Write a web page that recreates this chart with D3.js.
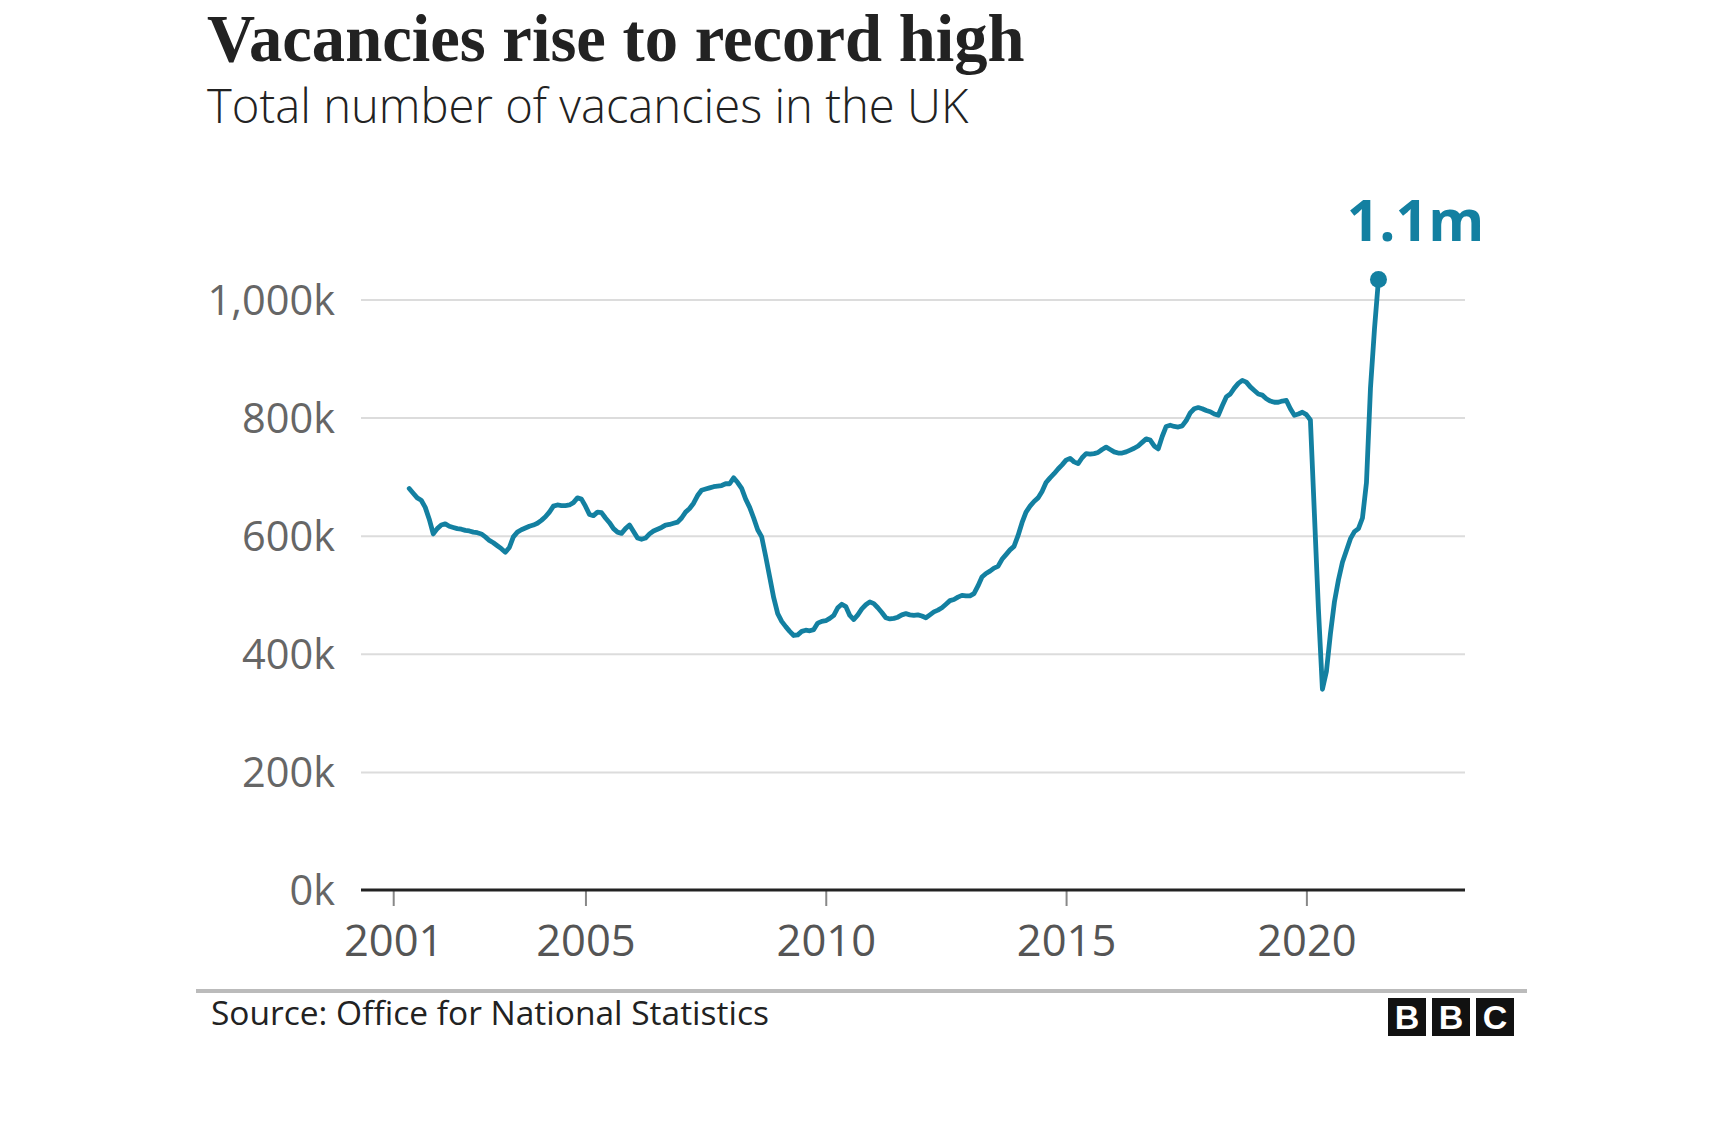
<!DOCTYPE html>
<html>
<head>
<meta charset="utf-8">
<script src="https://cdn.jsdelivr.net/npm/d3@7"></script>
<style>
  html, body { margin: 0; padding: 0; background: #fff; }
  svg { display: block; }
</style>
</head>
<body>
<svg id="chart" width="1724" height="1144"></svg>
<script>
// ---- Data (thousands of vacancies, rolling 3-month average, plotted at middle month) ----
const firstYear = 2001;
const firstMonth = 5; // May 2001
const v2001 = [680, 672, 664, 660, 648, 628, 603, 612];
const v2002 = [618, 620, 616, 614, 612, 611, 609, 608, 606, 605, 603, 598];
const v2003 = [592, 588, 583, 578, 572, 580, 598, 606, 610, 613, 616, 618];
const v2004 = [621, 626, 632, 640, 650, 652, 651, 651, 652, 656, 664, 662];
const v2005 = [650, 636, 634, 640, 639, 630, 622, 612, 606, 604, 612, 618];
const v2006 = [607, 596, 594, 596, 603, 608, 611, 614, 618, 619, 621, 623];
const v2007 = [630, 640, 646, 655, 668, 677, 679, 681, 683, 684, 685, 688];
const v2008 = [688, 698, 690, 680, 662, 648, 630, 610, 598, 565, 530, 495];
const v2009 = [468, 455, 446, 438, 431, 432, 438, 440, 439, 441, 452, 455];
const v2010 = [456, 460, 465, 478, 484, 480, 465, 458, 466, 476, 483, 488];
const v2011 = [485, 478, 470, 461, 459, 460, 462, 466, 468, 466, 465, 466];
const v2012 = [464, 461, 466, 471, 474, 478, 484, 490, 492, 496, 499, 498];
const v2013 = [498, 502, 515, 530, 536, 540, 545, 548, 560, 568, 576, 582];
const v2014 = [600, 622, 640, 650, 658, 664, 675, 690, 698, 705, 713, 720];
const v2015 = [728, 731, 725, 722, 732, 739, 738, 739, 741, 746, 750, 746];
const v2016 = [742, 740, 740, 742, 745, 748, 752, 758, 764, 762, 752, 747];
const v2017 = [768, 785, 787, 785, 784, 786, 795, 808, 815, 817, 815, 812];
const v2018 = [810, 806, 804, 820, 835, 840, 850, 858, 863, 860, 852, 846];
const v2019 = [840, 838, 832, 828, 826, 826, 828, 829, 815, 804, 806, 809];
const v2020 = [805, 796, 637, 476, 340, 370, 434, 488, 525, 555, 575, 595];
const v2021 = [607, 612, 630, 690, 850, 950, 1034];
const yearlySeries = [v2001, v2002, v2003, v2004, v2005, v2006, v2007, v2008, v2009, v2010,
  v2011, v2012, v2013, v2014, v2015, v2016, v2017, v2018, v2019, v2020, v2021];

const yTicks = [0, 200, 400, 600, 800, 1000];
const xTicks = [2001, 2005, 2010, 2015, 2020];
const titleText = "Vacancies rise to record high";
const subtitleText = "Total number of vacancies in the UK";
const sourceText = "Source: Office for National Statistics";
const highlightLabel = "1.1m";

// ---- Build data ----
const data = [];
yearlySeries.forEach((vals, i) => {
  const yr = firstYear + i;
  const m0 = i === 0 ? firstMonth : 1;
  vals.forEach((v, j) => {
    data.push({ t: yr + (m0 - 1 + j) / 12, v: v });
  });
});

// ---- Layout ----
const svg = d3.select("#chart");
const W = 1724, H = 1144;
const plot = { left: 361, right: 1465, top: 299.5, bottom: 890 };
const BLUE = "#1380A1";
const SANS = "'Open Sans', 'Noto Sans', sans-serif";

svg.append("rect").attr("width", W).attr("height", H).attr("fill", "#fff");

const x = d3.scaleLinear().domain([2000.33, 2023.3]).range([plot.left, plot.right]);
const y = d3.scaleLinear().domain([0, 1000]).range([plot.bottom, plot.top]);

// Title & subtitle
svg.append("text")
  .attr("x", 207).attr("y", 61)
  .attr("font-family", "'Liberation Serif', 'DejaVu Serif', serif")
  .attr("font-weight", "bold")
  .attr("font-size", 66.6)
  .attr("fill", "#222")
  .text(titleText);

svg.append("text")
  .attr("x", 207).attr("y", 123)
  .attr("font-family", SANS)
  .attr("font-weight", 300)
  .attr("font-size", 47.2)
  .attr("fill", "#222")
  .text(subtitleText);

// Gridlines + y labels
const yAxis = d3.axisLeft(y)
  .tickValues(yTicks)
  .tickSize(-(plot.right - plot.left))
  .tickPadding(26)
  .tickFormat(d => d3.format(",")(d) + "k");

const gy = svg.append("g")
  .attr("transform", `translate(${plot.left},0)`)
  .call(yAxis);
gy.select(".domain").remove();
gy.selectAll(".tick line")
  .attr("stroke", "#dcdcdc")
  .attr("stroke-width", 2)
  .attr("display", d => d === 0 ? "none" : null);
gy.selectAll(".tick text")
  .attr("font-family", SANS)
  .attr("font-size", 41.5)
  .attr("fill", "#666")
  .attr("dy", "0.36em");

// X axis
const xAxis = d3.axisBottom(x)
  .tickValues(xTicks)
  .tickSize(16)
  .tickPadding(19)
  .tickFormat(d3.format("d"));

const gx = svg.append("g")
  .attr("transform", `translate(0,${plot.bottom})`)
  .call(xAxis);
gx.select(".domain").remove();
gx.selectAll(".tick line").attr("stroke", "#888").attr("stroke-width", 2);
gx.selectAll(".tick text")
  .attr("font-family", SANS)
  .attr("font-size", 43.5)
  .attr("fill", "#555");

// Baseline (zero line)
svg.append("line")
  .attr("x1", plot.left).attr("x2", plot.right)
  .attr("y1", y(0)).attr("y2", y(0))
  .attr("stroke", "#222").attr("stroke-width", 3);

// Line
const line = d3.line().x(d => x(d.t)).y(d => y(d.v));
svg.append("path")
  .datum(data)
  .attr("fill", "none")
  .attr("stroke", BLUE)
  .attr("stroke-width", 4.8)
  .attr("stroke-linejoin", "round")
  .attr("stroke-linecap", "round")
  .attr("d", line);

// Highlight last point
const last = data[data.length - 1];
svg.append("circle")
  .attr("cx", x(last.t)).attr("cy", y(last.v))
  .attr("r", 8.5).attr("fill", BLUE);

svg.append("text")
  .attr("x", x(last.t) + 37).attr("y", y(last.v) - 38)
  .attr("text-anchor", "middle")
  .attr("font-family", SANS)
  .attr("font-weight", "bold")
  .attr("font-size", 57)
  .attr("fill", BLUE)
  .text(highlightLabel);

// Footer rule
svg.append("line")
  .attr("x1", 196).attr("x2", 1527)
  .attr("y1", 991).attr("y2", 991)
  .attr("stroke", "#bbb").attr("stroke-width", 4);

svg.append("text")
  .attr("x", 211).attr("y", 1025)
  .attr("font-family", SANS)
  .attr("font-size", 33.5)
  .attr("fill", "#222")
  .text(sourceText);

// BBC blocks
const bbcLetters = ["B", "B", "C"];
const logo = svg.append("g").attr("transform", "translate(1388,998)");
bbcLetters.forEach((ch, i) => {
  const gx0 = i * 44;
  logo.append("rect").attr("x", gx0).attr("y", 0).attr("width", 38).attr("height", 38).attr("fill", "#111");
  logo.append("text")
    .attr("x", gx0 + 19).attr("y", 31)
    .attr("text-anchor", "middle")
    .attr("font-family", "'Liberation Sans', Arial, sans-serif")
    .attr("font-weight", "bold")
    .attr("font-size", 34)
    .attr("fill", "#fff")
    .text(ch);
});
</script>
</body>
</html>
